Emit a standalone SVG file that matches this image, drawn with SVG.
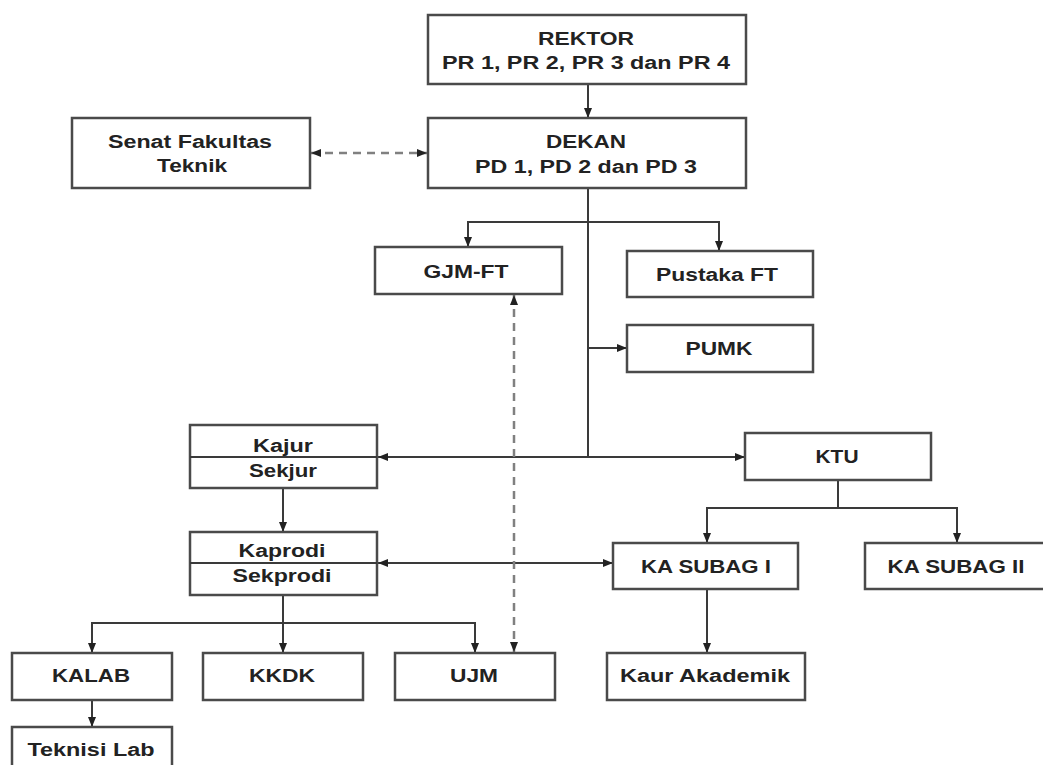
<svg xmlns="http://www.w3.org/2000/svg" width="1043" height="765" viewBox="0 0 1043 765">
<style>
.box{fill:#fff;stroke:#4a4a4a;stroke-width:2.5}
.ln{fill:none;stroke:#3a3a3a;stroke-width:2}
.dash{fill:none;stroke:#808080;stroke-width:2.5;stroke-dasharray:8 6}
text{font-family:"Liberation Sans",Arial,sans-serif;font-weight:bold;font-size:18px;fill:#222;text-anchor:middle}
</style>
<defs>
<marker id="ah" viewBox="0 0 10 10" refX="10" refY="5" markerWidth="10" markerHeight="10" markerUnits="userSpaceOnUse" orient="auto-start-reverse">
<path d="M0,1 L10,5 L0,9 Z" fill="#222"/>
</marker>
</defs>
<rect width="1043" height="765" fill="#fff"/>
<g id="connectors">
<line class="ln" x1="588" y1="84" x2="588" y2="118" marker-end="url(#ah)"/>
<line class="dash" x1="311" y1="153" x2="427" y2="153" marker-start="url(#ah)" marker-end="url(#ah)"/>
<line class="ln" x1="588" y1="188" x2="588" y2="457"/>
<polyline class="ln" points="468,247 468,222 719,222 719,251" marker-start="url(#ah)" marker-end="url(#ah)"/>
<line class="ln" x1="588" y1="348" x2="627" y2="348" marker-end="url(#ah)"/>
<line class="ln" x1="378" y1="457" x2="745" y2="457" marker-start="url(#ah)" marker-end="url(#ah)"/>
<line class="ln" x1="283" y1="488" x2="283" y2="532" marker-end="url(#ah)"/>
<line class="ln" x1="378" y1="563" x2="613" y2="563" marker-start="url(#ah)" marker-end="url(#ah)"/>
<line class="ln" x1="283" y1="595" x2="283" y2="653" marker-end="url(#ah)"/>
<polyline class="ln" points="92,653 92,623 475,623 475,653" marker-start="url(#ah)" marker-end="url(#ah)"/>
<line class="dash" x1="514" y1="295" x2="514" y2="652" marker-start="url(#ah)" marker-end="url(#ah)"/>
<line class="ln" x1="92" y1="700" x2="92" y2="727" marker-end="url(#ah)"/>
<line class="ln" x1="838" y1="480" x2="838" y2="508"/>
<polyline class="ln" points="707,543 707,508 957,508 957,543" marker-start="url(#ah)" marker-end="url(#ah)"/>
<line class="ln" x1="707" y1="589" x2="707" y2="653" marker-end="url(#ah)"/>
</g>
<g id="rektor"><rect class="box" x="428" y="15" width="318" height="69"/>
<text x="586" y="45" textLength="96" lengthAdjust="spacingAndGlyphs">REKTOR</text>
<text x="586" y="69" textLength="288" lengthAdjust="spacingAndGlyphs">PR 1, PR 2, PR 3 dan PR 4</text></g>
<g id="dekan"><rect class="box" x="428" y="118" width="318" height="70"/>
<text x="586" y="148" textLength="80" lengthAdjust="spacingAndGlyphs">DEKAN</text>
<text x="586" y="173" textLength="222" lengthAdjust="spacingAndGlyphs">PD 1, PD 2 dan PD 3</text></g>
<g id="senat"><rect class="box" x="72" y="118" width="238" height="70"/>
<text x="190" y="148" textLength="164" lengthAdjust="spacingAndGlyphs">Senat Fakultas</text>
<text x="192" y="172" textLength="70" lengthAdjust="spacingAndGlyphs">Teknik</text></g>
<g id="gjm"><rect class="box" x="375" y="247" width="187" height="47"/>
<text x="466" y="278" textLength="85" lengthAdjust="spacingAndGlyphs">GJM-FT</text></g>
<g id="pustaka"><rect class="box" x="627" y="251" width="186" height="46"/>
<text x="717" y="281" textLength="122" lengthAdjust="spacingAndGlyphs">Pustaka FT</text></g>
<g id="pumk"><rect class="box" x="627" y="325" width="186" height="47"/>
<text x="719" y="355" textLength="67" lengthAdjust="spacingAndGlyphs">PUMK</text></g>
<g id="kajur"><rect class="box" x="190" y="425" width="187" height="63"/>
<line class="ln" x1="190" y1="457" x2="377" y2="457"/>
<text x="283" y="452" textLength="60" lengthAdjust="spacingAndGlyphs">Kajur</text>
<text x="283" y="477" textLength="68" lengthAdjust="spacingAndGlyphs">Sekjur</text></g>
<g id="kaprodi"><rect class="box" x="190" y="532" width="187" height="63"/>
<line class="ln" x1="190" y1="563" x2="377" y2="563"/>
<text x="282" y="557" textLength="87" lengthAdjust="spacingAndGlyphs">Kaprodi</text>
<text x="282" y="582" textLength="99" lengthAdjust="spacingAndGlyphs">Sekprodi</text></g>
<g id="ktu"><rect class="box" x="745" y="433" width="186" height="47"/>
<text x="837" y="463" textLength="43" lengthAdjust="spacingAndGlyphs">KTU</text></g>
<g id="kasubag1"><rect class="box" x="613" y="543" width="185" height="46"/>
<text x="706" y="573" textLength="130" lengthAdjust="spacingAndGlyphs">KA SUBAG I</text></g>
<g id="kasubag2"><rect class="box" x="865" y="543" width="180" height="46"/>
<text x="956" y="573" textLength="137" lengthAdjust="spacingAndGlyphs">KA SUBAG II</text></g>
<g id="kalab"><rect class="box" x="12" y="653" width="160" height="47"/>
<text x="91" y="682" textLength="78" lengthAdjust="spacingAndGlyphs">KALAB</text></g>
<g id="kkdk"><rect class="box" x="203" y="653" width="160" height="47"/>
<text x="282" y="682" textLength="66" lengthAdjust="spacingAndGlyphs">KKDK</text></g>
<g id="ujm"><rect class="box" x="395" y="653" width="160" height="47"/>
<text x="474" y="682" textLength="48" lengthAdjust="spacingAndGlyphs">UJM</text></g>
<g id="kaur"><rect class="box" x="607" y="653" width="198" height="47"/>
<text x="705" y="682" textLength="170" lengthAdjust="spacingAndGlyphs">Kaur Akademik</text></g>
<g id="teknisi"><rect class="box" x="12" y="727" width="160" height="50"/>
<text x="91" y="756" textLength="127" lengthAdjust="spacingAndGlyphs">Teknisi Lab</text></g>
</svg>
